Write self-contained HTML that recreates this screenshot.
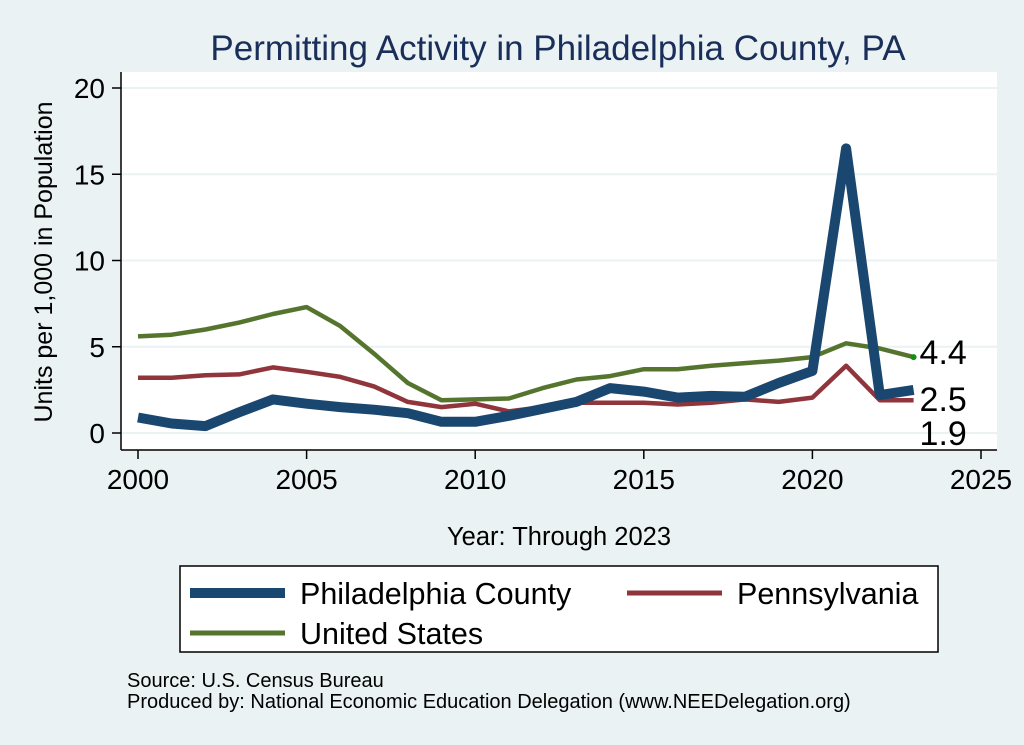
<!DOCTYPE html>
<html><head><meta charset="utf-8"><style>
body{margin:0;background:#eaf2f3;font-family:"Liberation Sans",Arial,sans-serif;}
svg{display:block}
</style></head><body>
<svg width="1024" height="745" viewBox="0 0 1024 745">
<rect x="0" y="0" width="1024" height="745" fill="#eaf2f3"/>
<text x="558" y="60" text-anchor="middle" font-size="35" fill="#1a2e5a">Permitting Activity in Philadelphia County, PA</text>
<rect x="121" y="72" width="876" height="378" fill="#fff"/>
<g id="grid"></g>
<g id="series"></g>
<line x1="121" y1="72" x2="121" y2="450" stroke="#000" stroke-width="1.5"/>
<line x1="121" y1="450" x2="997" y2="450" stroke="#000" stroke-width="1.5"/>
<g id="ticks"></g>
<text transform="translate(52,262) rotate(-90)" text-anchor="middle" font-size="25" fill="#000">Units per 1,000 in Population</text>
<text x="559" y="545" text-anchor="middle" font-size="25.5" fill="#000">Year: Through 2023</text>
<g>
<rect x="180" y="566" width="758" height="86" fill="#fff" stroke="#000" stroke-width="1.5"/>
<line x1="190" y1="593" x2="285" y2="593" stroke="#1a476f" stroke-width="10"/>
<text x="300" y="604" font-size="30.5">Philadelphia County</text>
<line x1="627" y1="593" x2="722" y2="593" stroke="#90353b" stroke-width="5"/>
<text x="737" y="604" font-size="30.5">Pennsylvania</text>
<line x1="190" y1="633" x2="285" y2="633" stroke="#55752f" stroke-width="5"/>
<text x="300" y="644" font-size="30.5">United States</text>
</g>
<text x="127" y="687" font-size="20">Source: U.S. Census Bureau</text>
<text x="127" y="708" font-size="20">Produced by: National Economic Education Delegation (www.NEEDelegation.org)</text>
</svg>
<script>
const years=[2000,2001,2002,2003,2004,2005,2006,2007,2008,2009,2010,2011,2012,2013,2014,2015,2016,2017,2018,2019,2020,2021,2022,2023];
const usVals=[5.6,5.7,6.0,6.4,6.9,7.3,6.2,4.6,2.9,1.9,1.95,2.0,2.6,3.1,3.3,3.7,3.7,3.9,4.05,4.2,4.4,5.2,4.9,4.4];
const paVals=[3.2,3.2,3.35,3.4,3.8,3.55,3.25,2.7,1.8,1.5,1.7,1.25,1.5,1.75,1.75,1.75,1.65,1.75,1.95,1.8,2.05,3.9,1.9,1.9];
const phVals=[0.9,0.55,0.4,1.2,1.95,1.7,1.5,1.35,1.15,0.65,0.65,1.0,1.4,1.8,2.6,2.4,2.05,2.15,2.1,2.9,3.6,16.5,2.2,2.5];
const yTicks=[0,5,10,15,20];
const xTicks=[2000,2005,2010,2015,2020,2025];
const endLabels=["2.5","1.9","4.4"];
const NS='http://www.w3.org/2000/svg';
function xs(v){return 138+(v-2000)*33.72;}
function ys(v){return 433-v*17.25;}
function mk(t,a,p){const e=document.createElementNS(NS,t);for(const k in a)e.setAttribute(k,a[k]);p.appendChild(e);return e;}
const grid=document.getElementById('grid'),ticks=document.getElementById('ticks'),ser=document.getElementById('series');
yTicks.forEach(v=>{
 const g=mk('line',{x1:121,x2:997,y1:ys(v),y2:ys(v),stroke:'#eaf2f3','stroke-width':2},grid);
 
 
 const t=mk('line',{x1:112,x2:121,y1:ys(v),y2:ys(v),stroke:'#000','stroke-width':1.5},ticks);
 
 
 const l=mk('text',{x:105,y:ys(v)+10,'text-anchor':'end','font-size':28},ticks);
 l.textContent=v;
 
 
});
xTicks.forEach(v=>{
 const t=mk('line',{x1:xs(v),x2:xs(v),y1:450,y2:459,stroke:'#000','stroke-width':1.5},ticks);
 
 
 const l=mk('text',{x:xs(v),y:489,'text-anchor':'middle','font-size':28},ticks);
 l.textContent=v;
 
 
});
function line(vals,color,w,name){
 const d=vals.map((v,i)=>(i?'L':'M')+xs(years[i]).toFixed(1)+','+ys(v).toFixed(1)).join(' ');
 const p=mk('path',{d:d,fill:'none',stroke:color,'stroke-width':w,'stroke-linejoin':'round'},ser);
 
 
}
line(usVals,'#55752f',4.5,'series-united-states');
line(paVals,'#90353b',4.5,'series-pennsylvania');
line(phVals,'#1a476f',10,'series-philadelphia');
const last=years.length-1;
const dot=mk('circle',{cx:xs(years[last]),cy:ys(usVals[last]),r:3,fill:'#109010'},ser);


const lp=[[phVals[last],10],[paVals[last],34],[usVals[last],-4]];
lp.forEach((a,i)=>{
 const t=mk('text',{x:xs(years[last])+6,y:ys(a[0])+11+a[1],'font-size':34},ser);
 t.textContent=endLabels[i];
 
 
});
</script>
</body></html>
